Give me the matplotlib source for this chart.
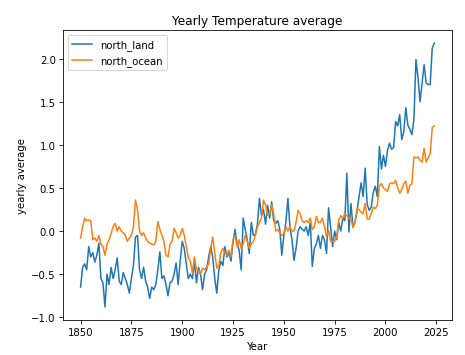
import numpy as np
import matplotlib
matplotlib.use("Agg")
import matplotlib.pyplot as plt

years = np.arange(1850, 2025)

north_land = [
    -0.65, -0.42, -0.38, -0.45, -0.18, -0.30, -0.25, -0.36, -0.28, -0.14,
    -0.55, -0.60, -0.88, -0.50, -0.62, -0.42, -0.55, -0.45, -0.31, -0.58,
    -0.62, -0.48, -0.55, -0.62, -0.72, -0.55, -0.40, -0.07, -0.05, -0.45,
    -0.55, -0.42, -0.58, -0.65, -0.78, -0.65, -0.68, -0.62, -0.45, -0.24,
    -0.55, -0.52, -0.62, -0.75, -0.60, -0.58, -0.50, -0.37, -0.62, -0.35,
    -0.12, -0.20, -0.38, -0.55, -0.50, -0.55, -0.35, -0.60, -0.42, -0.50,
    -0.68, -0.50, -0.45, -0.30, -0.18, -0.30, -0.55, -0.72, -0.45, -0.35,
    -0.40, -0.18, -0.30, -0.25, -0.35, -0.12, 0.02, -0.15, -0.22, -0.45,
    0.15, 0.02, -0.10, -0.26, 0.10, -0.05, -0.04, 0.08, 0.38, 0.18,
    0.25, 0.08, 0.30, 0.15, 0.34, 0.12, 0.09, 0.12, 0.02, -0.28,
    -0.05, 0.10, 0.38, 0.05, -0.10, -0.34, -0.20, 0.00, 0.05, 0.02,
    0.00, 0.05, -0.05, 0.10, -0.41, -0.20, -0.15, -0.05, -0.20, -0.05,
    -0.10, -0.26, 0.27, 0.05, -0.18, 0.00, -0.10, 0.10, 0.00, 0.15,
    0.12, 0.67, -0.01, 0.32, 0.05, 0.10, 0.23, 0.40, 0.56, 0.40,
    0.73, 0.31, 0.24, 0.28, 0.45, 0.52, 0.40, 0.98, 0.72, 0.88,
    0.75, 0.94, 1.02, 0.95, 0.97, 1.27, 1.22, 1.35, 1.06, 1.15,
    1.43, 1.23, 1.18, 1.12, 1.30, 1.99, 1.78, 1.50, 1.72, 1.93,
    1.72, 1.70, 1.70, 2.12, 2.18,
]

north_ocean = [
    -0.08, 0.05, 0.15, 0.12, 0.13, 0.12, -0.10, -0.08, -0.12, -0.05,
    -0.15, -0.18, -0.28, -0.15, -0.10, -0.03, 0.05, 0.09, 0.00, 0.05,
    0.00, -0.02, -0.05, -0.12, -0.08, -0.05, 0.05, 0.36, 0.25, 0.00,
    -0.05, -0.02, -0.08, -0.12, -0.14, -0.15, -0.16, -0.12, 0.11, 0.02,
    -0.05, -0.12, -0.28, -0.30, -0.15, -0.12, 0.03, -0.02, -0.08, -0.05,
    0.03, -0.05, -0.18, -0.31, -0.35, -0.49, -0.30, -0.45, -0.45, -0.50,
    -0.43, -0.45, -0.42, -0.38, -0.20, -0.07, -0.25, -0.43, -0.40, -0.25,
    -0.20, -0.25, -0.28, -0.22, -0.30, -0.10, -0.05, -0.18, -0.10, -0.20,
    -0.15, -0.05, -0.12, -0.20, -0.15, -0.12, -0.05, 0.05, 0.10, 0.15,
    0.36, 0.30, 0.18, 0.20, 0.30, 0.20, 0.00, 0.02, -0.02, -0.05,
    -0.03, 0.05, 0.00, 0.05, 0.00, 0.00, 0.10, 0.24, 0.20, 0.12,
    0.10, 0.12, 0.10, 0.15, 0.02, 0.05, 0.17, 0.10, 0.10, 0.15,
    0.05, -0.06, 0.01, -0.12, -0.12, -0.12, -0.06, 0.13, 0.18, 0.15,
    0.20, 0.18, 0.15, 0.14, 0.04, 0.10, 0.26, 0.25, 0.22, 0.20,
    0.32, 0.14, 0.14, 0.20, 0.28, 0.26, 0.30, 0.52, 0.55, 0.50,
    0.48, 0.46, 0.55, 0.56, 0.55, 0.59, 0.50, 0.44, 0.48, 0.55,
    0.58, 0.44, 0.53, 0.55, 0.86, 0.85, 0.86, 0.82, 0.80, 0.96,
    0.80, 0.85, 0.90, 1.20, 1.22,
]

fig = plt.figure(figsize=(6.4, 4.89), dpi=72.8)
ax = fig.add_axes([0.135, 0.098, 0.835, 0.815])
ax.plot(years, north_land, label="north_land")
ax.plot(years, north_ocean, label="north_ocean")
ax.set_title("Yearly Temperature average")
ax.set_xlabel("Year")
ax.set_ylabel("yearly average")
ax.legend(loc="upper left")
fig.savefig("out.png", dpi=72.8)
